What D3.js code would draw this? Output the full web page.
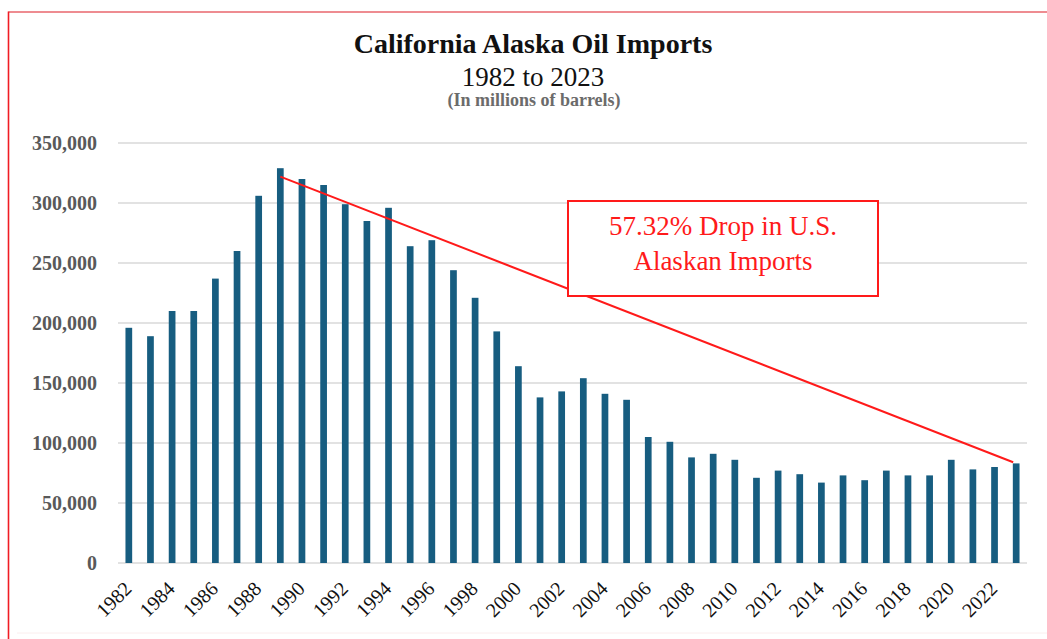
<!DOCTYPE html>
<html>
<head>
<meta charset="utf-8">
<script src="https://cdn.jsdelivr.net/npm/d3@7"></script>
<style>
  html, body { margin: 0; padding: 0; background: #fff; }
  svg { display: block; }
  text { font-family: "Liberation Serif", "DejaVu Serif", serif; }
</style>
</head>
<body>
<svg id="chart" width="1047" height="639"></svg>
<script>
// Alaska crude imported into California, by year
const years = d3.range(1982, 2024);
const imports = [
  196000, 189000, 210000, 210000, 237000, 260000, 306000, 329000, 320000, 315000,
  299000, 285000, 296000, 264000, 269000, 244000, 221000, 193000, 164000, 138000,
  143000, 154000, 141000, 136000, 105000, 101000, 88000, 91000, 86000, 71000,
  77000, 74000, 67000, 73000, 69000, 77000, 73000, 73000, 86000, 78000,
  80000, 83000
];
const yTicks = [0, 50000, 100000, 150000, 200000, 250000, 300000, 350000];
const xTickYears = years.filter(y => (y - 1982) % 2 === 0);

const titleLines = ["California Alaska Oil Imports", "1982 to 2023"];
const subtitle = "(In millions of barrels)";
const noteLines = ["57.32% Drop in U.S.", "Alaskan Imports"];
// decline line drawn from the 1989 peak down to 2023
const trendFrom = { year: 1989, value: 322000 };
const trendTo = { year: 2023, value: 84000 };

const svg = d3.select("#chart");

// outer frame
svg.append("line").attr("x1", 8.5).attr("x2", 1047).attr("y1", 12).attr("y2", 12)
  .attr("stroke", "#e8666c").attr("stroke-width", 1.5);
svg.append("line").attr("x1", 8.5).attr("x2", 8.5).attr("y1", 11.5).attr("y2", 639)
  .attr("stroke", "#f01c24").attr("stroke-width", 1.6);
svg.append("line").attr("x1", 17).attr("x2", 1047).attr("y1", 633).attr("y2", 633)
  .attr("stroke", "#fbeeee").attr("stroke-width", 1);

const x = d3.scaleBand().domain(years).range([118, 1027])
  .paddingInner(0.69).paddingOuter(0.345);
const y = d3.scaleLinear().domain([0, 350000]).range([563, 143]);

// gridlines
svg.append("g").selectAll("line").data(yTicks).join("line")
  .attr("x1", 118).attr("x2", 1027)
  .attr("y1", d => y(d)).attr("y2", d => y(d))
  .attr("stroke", "#d9d9d9").attr("stroke-width", 1.5);

// y axis labels
const yAxis = d3.axisLeft(y).tickValues(yTicks).tickSize(0).tickPadding(0)
  .tickFormat(d3.format(","));
svg.append("g").attr("transform", "translate(97,0)").call(yAxis)
  .call(g => g.select(".domain").remove())
  .call(g => g.selectAll("text")
    .attr("font-family", "Liberation Serif, serif")
    .attr("font-size", 20).attr("font-weight", "bold").attr("fill", "#595959"));

// bars
svg.append("g").selectAll("rect").data(years).join("rect")
  .attr("x", (d) => x(d))
  .attr("width", x.bandwidth())
  .attr("y", (d, i) => y(imports[i]))
  .attr("height", (d, i) => y(0) - y(imports[i]))
  .attr("fill", "#175d80");

// x axis labels, every other year, rotated
svg.append("g").selectAll("text").data(xTickYears).join("text")
  .attr("transform", d => `translate(${x(d) + x.bandwidth() / 2 + 4},590) rotate(-45)`)
  .attr("text-anchor", "end")
  .attr("font-size", 20).attr("fill", "#111")
  .text(d => d);

// decline line
const cx = yr => x(yr) + x.bandwidth() / 2;
svg.append("line")
  .attr("x1", cx(trendFrom.year)).attr("y1", y(trendFrom.value))
  .attr("x2", cx(trendTo.year) - 3).attr("y2", y(trendTo.value))
  .attr("stroke", "#ff1a1a").attr("stroke-width", 2);

// callout box
svg.append("rect").attr("x", 568).attr("y", 201).attr("width", 310).attr("height", 95)
  .attr("fill", "#fff").attr("stroke", "#ff1a1a").attr("stroke-width", 2);
svg.append("g").selectAll("text").data(noteLines).join("text")
  .attr("x", 723).attr("y", (d, i) => 235 + i * 35)
  .attr("text-anchor", "middle").attr("font-size", 27).attr("fill", "#ff1a1a")
  .text(d => d);

// titles
svg.append("text").attr("x", 533).attr("y", 53).attr("text-anchor", "middle")
  .attr("font-size", 28).attr("font-weight", "bold").attr("fill", "#111")
  .text(titleLines[0]);
svg.append("text").attr("x", 533).attr("y", 86).attr("text-anchor", "middle")
  .attr("font-size", 27).attr("fill", "#111")
  .text(titleLines[1]);
svg.append("text").attr("x", 534).attr("y", 106).attr("text-anchor", "middle")
  .attr("font-size", 18).attr("font-weight", "bold").attr("fill", "#6b6b6b")
  .text(subtitle);
</script>
</body>
</html>
